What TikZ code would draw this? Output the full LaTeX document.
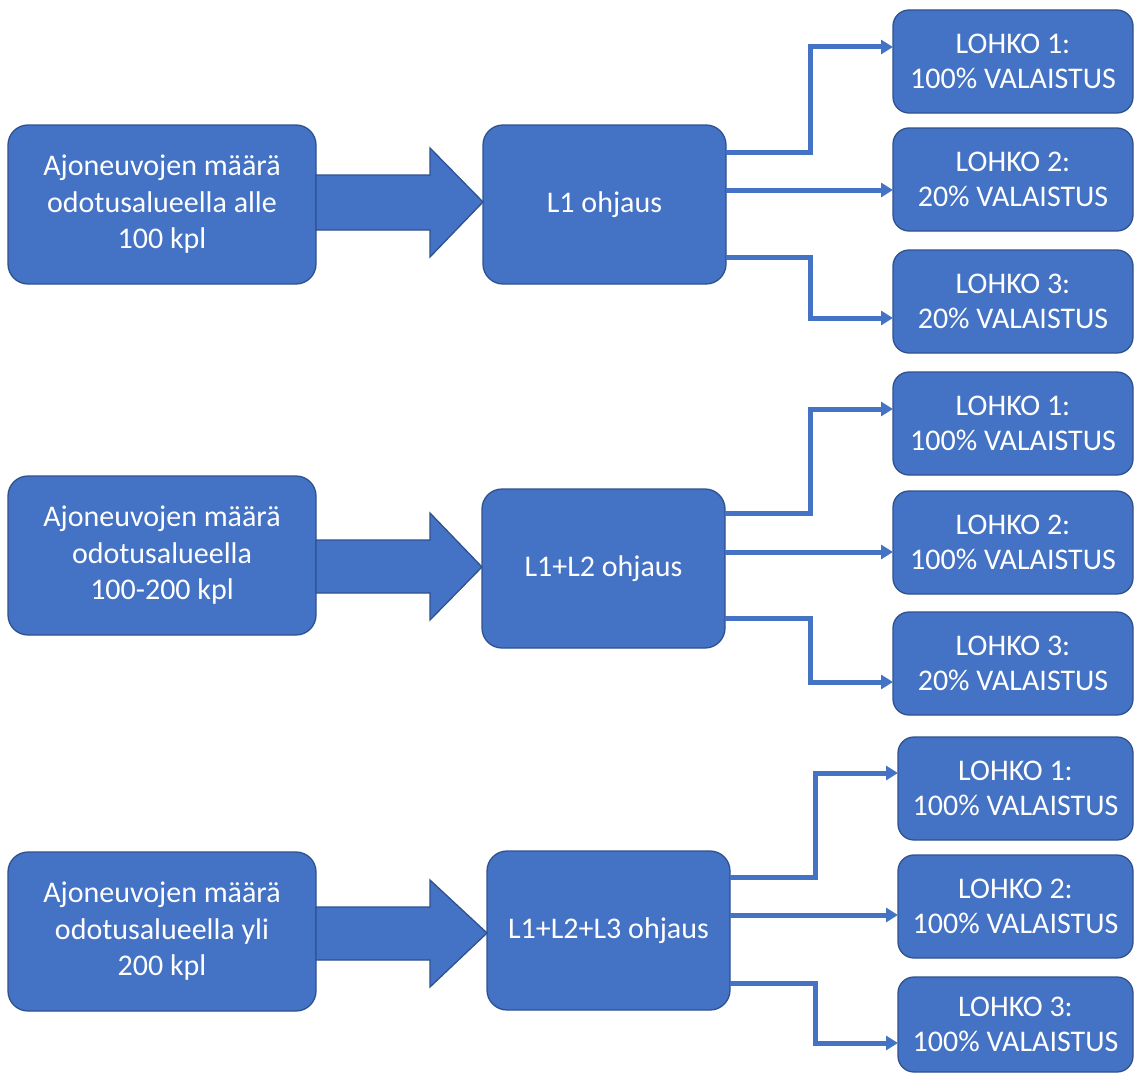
\documentclass[tikz,border=0pt]{standalone}
\usepackage{fontspec}
\setmainfont{Carlito}
\usetikzlibrary{arrows.meta}
\definecolor{boxfill}{HTML}{4472C4}
\definecolor{boxline}{HTML}{2F528F}
\begin{document}
\begin{tikzpicture}[x=1pt,y=-1pt,
  box/.style={draw=boxline, line width=1.3pt, fill=boxfill, rounded corners=20pt,
    inner sep=0pt, outer sep=0pt, anchor=north west, align=center, text=white,
    font=\fontsize{30}{36.5}\selectfont},
  leftbox/.style={box, minimum width=308pt, minimum height=159pt},
  midbox/.style={box, minimum width=243pt, minimum height=159pt},
  rbox/.style={box, rounded corners=16pt, minimum width=240pt, minimum height=103pt,
    font=\fontsize{30}{35.5}\selectfont},
  blockarrow/.style={draw=boxline, line width=1.3pt, fill=boxfill, line join=miter},
  conn/.style={draw=boxfill, line width=5pt, -{Triangle[length=12pt,width=14pt]}}
]
\useasboundingbox (0,0) rectangle (1135,1073);

% ---------- group 1 ----------
\node[leftbox] (L1) at (8,125) {Ajoneuvojen määrä\\odotusalueella alle\\100 kpl};
\node[midbox] (M1) at (483,125) {L1 ohjaus};
\node[rbox] (R11) at (893,10) {LOHKO 1:\\100\% VALAISTUS};
\node[rbox] (R12) at (893,128) {LOHKO 2:\\20\% VALAISTUS};
\node[rbox] (R13) at (893,250) {LOHKO 3:\\20\% VALAISTUS};
\path[blockarrow] (L1.east |- 0,175) -- (430,175) -- (430,148) -- (M1.west |- 0,202)
  -- (430,257) -- (430,230) -- (L1.east |- 0,230) -- cycle;
\draw[conn] (M1.east |- 0,152) -| (810,47) -- (R11.west |- 0,47);
\draw[conn] (M1.east |- 0,190) -- (R12.west |- 0,190);
\draw[conn] (M1.east |- 0,257) -| (810,318) -- (R13.west |- 0,318);

% ---------- group 2 ----------
\node[leftbox] (L2) at (8,476) {Ajoneuvojen määrä\\odotusalueella\\100-200 kpl};
\node[midbox] (M2) at (482,489) {L1+L2 ohjaus};
\node[rbox] (R21) at (893,372) {LOHKO 1:\\100\% VALAISTUS};
\node[rbox] (R22) at (893,491) {LOHKO 2:\\100\% VALAISTUS};
\node[rbox] (R23) at (893,612) {LOHKO 3:\\20\% VALAISTUS};
\path[blockarrow] (L2.east |- 0,540) -- (430,540) -- (430,513) -- (M2.west |- 0,567)
  -- (430,620) -- (430,593) -- (L2.east |- 0,593) -- cycle;
\draw[conn] (M2.east |- 0,513) -| (810,409) -- (R21.west |- 0,409);
\draw[conn] (M2.east |- 0,552) -- (R22.west |- 0,552);
\draw[conn] (M2.east |- 0,618) -| (810,682) -- (R23.west |- 0,682);

% ---------- group 3 ----------
\node[leftbox] (L3) at (8,852) {Ajoneuvojen määrä\\odotusalueella yli\\200 kpl};
\node[midbox] (M3) at (487,851) {L1+L2+L3 ohjaus};
\node[rbox, minimum width=235pt] (R31) at (898,737) {LOHKO 1:\\100\% VALAISTUS};
\node[rbox, minimum width=235pt] (R32) at (898,855) {LOHKO 2:\\100\% VALAISTUS};
\node[rbox, minimum width=235pt, minimum height=95pt] (R33) at (898,977) {LOHKO 3:\\100\% VALAISTUS};
\path[blockarrow] (L3.east |- 0,907) -- (430,907) -- (430,880) -- (M3.west |- 0,933)
  -- (430,987) -- (430,960) -- (L3.east |- 0,960) -- cycle;
\draw[conn] (M3.east |- 0,877) -| (815,773) -- (R31.west |- 0,773);
\draw[conn] (M3.east |- 0,915) -- (R32.west |- 0,915);
\draw[conn] (M3.east |- 0,983) -| (815,1043) -- (R33.west |- 0,1043);
\end{tikzpicture}
\end{document}
